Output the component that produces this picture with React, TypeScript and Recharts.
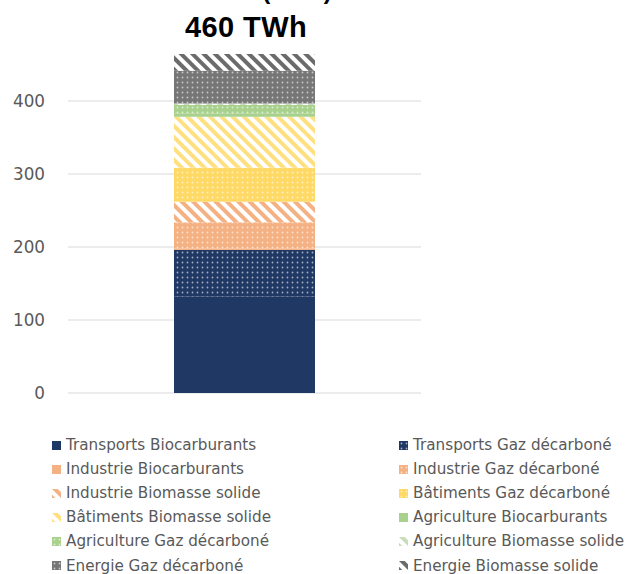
import React from 'react';
import { BarChart, Bar, XAxis, YAxis, CartesianGrid, Legend } from 'recharts';

const categories = ['2050'];
const seriesNames = [
  'Transports Biocarburants',
  'Transports Gaz décarboné',
  'Industrie Biocarburants',
  'Industrie Gaz décarboné',
  'Industrie Biomasse solide',
  'Bâtiments Gaz décarboné',
  'Bâtiments Biomasse solide',
  'Agriculture Biocarburants',
  'Agriculture Gaz décarboné',
  'Agriculture Biomasse solide',
  'Energie Gaz décarboné',
  'Energie Biomasse solide',
];
const seriesValues = [132, 64, 2, 36, 28, 46.5, 70, 4, 12, 2, 45, 23];
const seriesColors = [
  '#203864', '#203864', '#F4B183', '#F4B183', '#F4B183', '#FFD966',
  '#FFE080', '#A9D18E', '#A9D18E', '#C9DDBB', '#767676', '#6B6B6B',
];
const seriesPatterns = [
  'solid', 'dots', 'solid', 'dots', 'stripes', 'dots',
  'stripes', 'solid', 'dots', 'stripes', 'dots', 'stripes',
];
const yTicks = [0, 100, 200, 300, 400];
const titleText = '460 TWh';
const subtitleText = '(2050)';

const data = categories.map((c) => {
  const row: Record<string, any> = { name: c };
  seriesNames.forEach((n, i) => { row['s' + i] = seriesValues[i]; });
  return row;
});

const fillFor = (i: number) => (seriesPatterns[i] === 'solid' ? seriesColors[i] : `url(#pat${i})`);

const Patterns = () => (
  <svg width={0} height={0} style={{ position: 'absolute' }}>
    <defs>
      {seriesPatterns.map((p, i) => {
        if (p === 'dots') {
          return (
            <pattern key={i} id={`pat${i}`} width={5} height={5} patternUnits="userSpaceOnUse">
              <rect width={5} height={5} fill={seriesColors[i]} />
              <circle cx={2.5} cy={2.5} r={0.9} fill="#ffffff" fillOpacity={0.6} />
            </pattern>
          );
        }
        if (p === 'stripes') {
          return (
            <pattern key={i} id={`pat${i}`} width={8} height={8} patternUnits="userSpaceOnUse" patternTransform="rotate(-45)">
              <rect width={8} height={8} fill="#ffffff" />
              <rect width={4} height={8} fill={seriesColors[i]} />
            </pattern>
          );
        }
        return null;
      })}
    </defs>
  </svg>
);

const LegendContent = () => (
  <div style={{ position: 'relative', width: 627, height: 150 }}>
    {seriesNames.map((n, i) => {
      const col = i % 2;
      const row = Math.floor(i / 2);
      return (
        <div key={n} style={{ position: 'absolute', left: col ? 399 : 52, top: row * 24.1, height: 20, display: 'flex', alignItems: 'center', whiteSpace: 'nowrap' }}>
          <svg width={9} height={9}><rect width={9} height={9} fill={fillFor(i)} /></svg>
          <span style={{ marginLeft: 5, fontFamily: 'DejaVu Sans', fontSize: 15.2, color: '#595959' }}>{n}</span>
        </div>
      );
    })}
  </div>
);

export default function App() {
  return (
    <div style={{ position: 'absolute', left: 0, top: 0, width: 627, height: 574, background: '#fff' }}>
      <Patterns />
      <BarChart width={627} height={574} data={data} margin={{ top: 28, right: 206, left: 0, bottom: 181 }} barSize={141}>
        <CartesianGrid horizontal vertical={false} stroke="#D9D9D9" syncWithTicks />
        <XAxis dataKey="name" hide />
        <YAxis
          width={68}
          domain={[0, 500]}
          ticks={yTicks}
          interval={0}
          axisLine={false}
          tickLine={false}
          tickSize={0}
          tickMargin={23}
          tick={{ fill: '#595959', fontSize: 16.8, fontFamily: 'DejaVu Sans' }}
        />
        {seriesNames.map((n, i) => (
          <Bar key={n} dataKey={'s' + i} name={n} stackId="a" fill={fillFor(i)} isAnimationActive={false} />
        ))}
        <Legend layout="horizontal" verticalAlign="middle" align="center" content={LegendContent} wrapperStyle={{ left: 0, top: 435, width: 627 }} />
      </BarChart>
      <svg width={627} height={60} style={{ position: 'absolute', left: 0, top: 0 }}>
        <text x={297} y={-1} textAnchor="middle" fontFamily="Liberation Sans" fontWeight="bold" fontSize={24} fill="#000">{subtitleText}</text>
        <text x={246} y={37} textAnchor="middle" fontFamily="Liberation Sans" fontWeight="bold" fontSize={29} letterSpacing={0.4} fill="#000">{titleText}</text>
      </svg>
    </div>
  );
}
